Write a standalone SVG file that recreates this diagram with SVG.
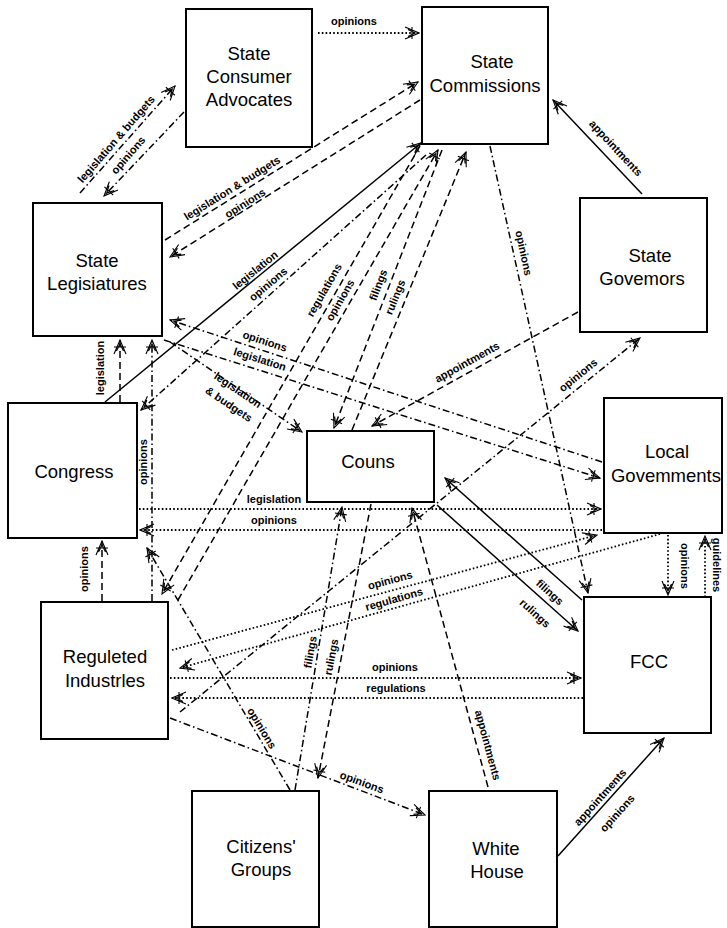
<svg xmlns="http://www.w3.org/2000/svg" width="727" height="928" viewBox="0 0 727 928">
<defs>
<style>
.box{fill:#fff;stroke:#000;stroke-width:2}
.nl{font-family:"Liberation Sans",Arial,sans-serif;font-size:18.5px;text-anchor:middle;fill:#000}
.cl{font-family:"Liberation Sans",Arial,sans-serif;font-size:11px;font-weight:bold;text-anchor:middle;fill:#000}
.c{fill:none;stroke:#000;stroke-width:1.5;marker-end:url(#arr)}
.dot{stroke-dasharray:1.6 2.2;stroke-width:1.8}
.dash{stroke-dasharray:7 4}
.dd{stroke-dasharray:7 3 1.6 3}
</style>
<marker id="arr" viewBox="0 0 16 14" refX="15" refY="7" markerWidth="16" markerHeight="14" markerUnits="userSpaceOnUse" orient="auto">
<path d="M1,1 L15,7 L1,13 M4,3.5 L11,7 L4,10.5 M8,1 L8,13" fill="none" stroke="#000" stroke-width="1.1" stroke-dasharray="none"/>
</marker>
</defs>
<rect width="727" height="928" fill="#fff"/>
<g id="connectors">
<path class="c dot" d="M318,33 L419,33"/>
<path class="c dd" d="M80,193 L175,86"/>
<path class="c dd" d="M184,112 L104,196"/>
<path class="c dash" d="M165,240 L418,82"/>
<path class="c dash" d="M420,100 L170,257"/>
<path class="c" d="M642,194 L553,100"/>
<path class="c" d="M105,402 L421,143"/>
<path class="c dd" d="M426,155 L141,410"/>
<path class="c dash" d="M420,146 L162,594"/>
<path class="c dash" d="M178,600 L438,150"/>
<path class="c dash" d="M442,150 L334,428"/>
<path class="c dash" d="M352,430 L466,152"/>
<path class="c dd" d="M490,146 L588,593"/>
<path class="c dash" d="M578,312 L372,426"/>
<path class="c dd" d="M180,712 L640,338"/>
<path class="c dd" d="M602,462 L170,320"/>
<path class="c dd" d="M164,340 L600,478"/>
<path class="c dd" d="M170,342 L302,432"/>
<path class="c dot" d="M139,509 L601,509"/>
<path class="c dot" d="M602,530 L140,530"/>
<path class="c dot" d="M172,650 L597,535"/>
<path class="c dot" d="M660,534 L180,668"/>
<path class="c dot" d="M170,678 L581,678"/>
<path class="c dot" d="M583,698 L172,698"/>
<path class="c dot" d="M668,535 L668,595"/>
<path class="c dot" d="M705,597 L705,536"/>
<path class="c" d="M582,600 L445,478"/>
<path class="c" d="M437,505 L578,631"/>
<path class="c" d="M558,856 L664,738"/>
<path class="c dash" d="M488,787 L412,508"/>
<path class="c dd" d="M170,718 L425,815"/>
<path class="c dd" d="M295,790 L342,507"/>
<path class="c dash" d="M371,504 L318,778"/>
<path class="c dd" d="M290,790 L147,548"/>
<path class="c dash" d="M120,402 L120,340"/>
<path class="c dd" d="M152,601 L152,340"/>
<path class="c dash" d="M102,601 L102,541"/>
<g id="connector-labels">
<text class="cl" transform="translate(354,21)" y="4">opinions</text>
<text class="cl" transform="translate(116,139) rotate(-49)" y="4">legislation &amp; budgets</text>
<text class="cl" transform="translate(128,155) rotate(-49)" y="4">opinions</text>
<text class="cl" transform="translate(232,188) rotate(-32)" y="4">legislation &amp; budgets</text>
<text class="cl" transform="translate(245,203) rotate(-32)" y="4">opinions</text>
<text class="cl" transform="translate(616,148) rotate(47)" y="4">appointments</text>
<text class="cl" transform="translate(255,270) rotate(-39)" y="4">legislation</text>
<text class="cl" transform="translate(268,284) rotate(-40)" y="4">opinions</text>
<text class="cl" transform="translate(324,290) rotate(-60)" y="4">regulations</text>
<text class="cl" transform="translate(340,300) rotate(-60)" y="4">opinions</text>
<text class="cl" transform="translate(378,285) rotate(-69)" y="4">filings</text>
<text class="cl" transform="translate(395,297) rotate(-68)" y="4">rulings</text>
<text class="cl" transform="translate(524,253) rotate(78)" y="4">opinions</text>
<text class="cl" transform="translate(467,362) rotate(-29)" y="4">appointments</text>
<text class="cl" transform="translate(578,375) rotate(-39)" y="4">opinions</text>
<text class="cl" transform="translate(265,341) rotate(18)" y="4">opinions</text>
<text class="cl" transform="translate(260,359) rotate(17.5)" y="4">legislation</text>
<text class="cl" transform="translate(238,390) rotate(34)" y="4">legislation</text>
<text class="cl" transform="translate(229,404) rotate(34)" y="4">&amp; budgets</text>
<text class="cl" transform="translate(274,499)" y="4">legislation</text>
<text class="cl" transform="translate(274,520)" y="4">opinions</text>
<text class="cl" transform="translate(390,580) rotate(-15)" y="4">opinions</text>
<text class="cl" transform="translate(394,599) rotate(-16)" y="4">regulations</text>
<text class="cl" transform="translate(395,667)" y="4">opinions</text>
<text class="cl" transform="translate(396,688)" y="4">regulations</text>
<text class="cl" transform="translate(685,566) rotate(90)" y="4">opinions</text>
<text class="cl" transform="translate(717,565) rotate(90)" y="4">guidelines</text>
<text class="cl" transform="translate(550,592) rotate(42)" y="4">filings</text>
<text class="cl" transform="translate(535,613) rotate(42)" y="4">rulings</text>
<text class="cl" transform="translate(600,797) rotate(-48)" y="4">appointments</text>
<text class="cl" transform="translate(617,813) rotate(-48)" y="4">opinions</text>
<text class="cl" transform="translate(488,745) rotate(75)" y="4">appointments</text>
<text class="cl" transform="translate(362,782) rotate(20)" y="4">opinions</text>
<text class="cl" transform="translate(310,652) rotate(-80)" y="4">filings</text>
<text class="cl" transform="translate(331,657) rotate(-79)" y="4">rulings</text>
<text class="cl" transform="translate(262,728) rotate(59)" y="4">opinions</text>
<text class="cl" transform="translate(100,368) rotate(-90)" y="4">legislation</text>
<text class="cl" transform="translate(143,462) rotate(-90)" y="4">opinions</text>
<text class="cl" transform="translate(84,569) rotate(-90)" y="4">opinions</text>
</g>
</g>
<g id="state-consumer-advocates"><rect class="box" x="186" y="9" width="126" height="138"/><text class="nl" x="249" y="60">State</text><text class="nl" x="249" y="83">Consumer</text><text class="nl" x="249" y="106">Advocates</text></g>
<g id="state-commissions"><rect class="box" x="422" y="7" width="126" height="137"/><text class="nl" x="492" y="68">State</text><text class="nl" x="485" y="92">Commissions</text></g>
<g id="state-governors"><rect class="box" x="580" y="198" width="127" height="134"/><text class="nl" x="650" y="262">State</text><text class="nl" x="642" y="285">Govemors</text></g>
<g id="state-legislatures"><rect class="box" x="33" y="203" width="129" height="133"/><text class="nl" x="97" y="267">State</text><text class="nl" x="97" y="290">Legisiatures</text></g>
<g id="congress"><rect class="box" x="8" y="403" width="129" height="135"/><text class="nl" x="74" y="478">Congress</text></g>
<g id="couns"><rect class="box" x="307" y="431" width="127" height="71"/><text class="nl" x="368" y="468">Couns</text></g>
<g id="local-governments"><rect class="box" x="604" y="398" width="118" height="135"/><text class="nl" x="667" y="458">Local</text><text class="nl" x="666" y="482">Govemments</text></g>
<g id="regulated-industries"><rect class="box" x="41" y="602" width="127" height="137"/><text class="nl" x="105" y="663">Reguleted</text><text class="nl" x="105" y="687">Industrles</text></g>
<g id="citizens-groups"><rect class="box" x="192" y="791" width="127" height="136"/><text class="nl" x="261" y="853">Citizens'</text><text class="nl" x="261" y="876">Groups</text></g>
<g id="white-house"><rect class="box" x="429" y="791" width="128" height="136"/><text class="nl" x="496" y="855">White</text><text class="nl" x="497" y="878">House</text></g>
<g id="fcc"><rect class="box" x="584" y="597" width="127" height="136"/><text class="nl" x="649" y="668">FCC</text></g>
</svg>
